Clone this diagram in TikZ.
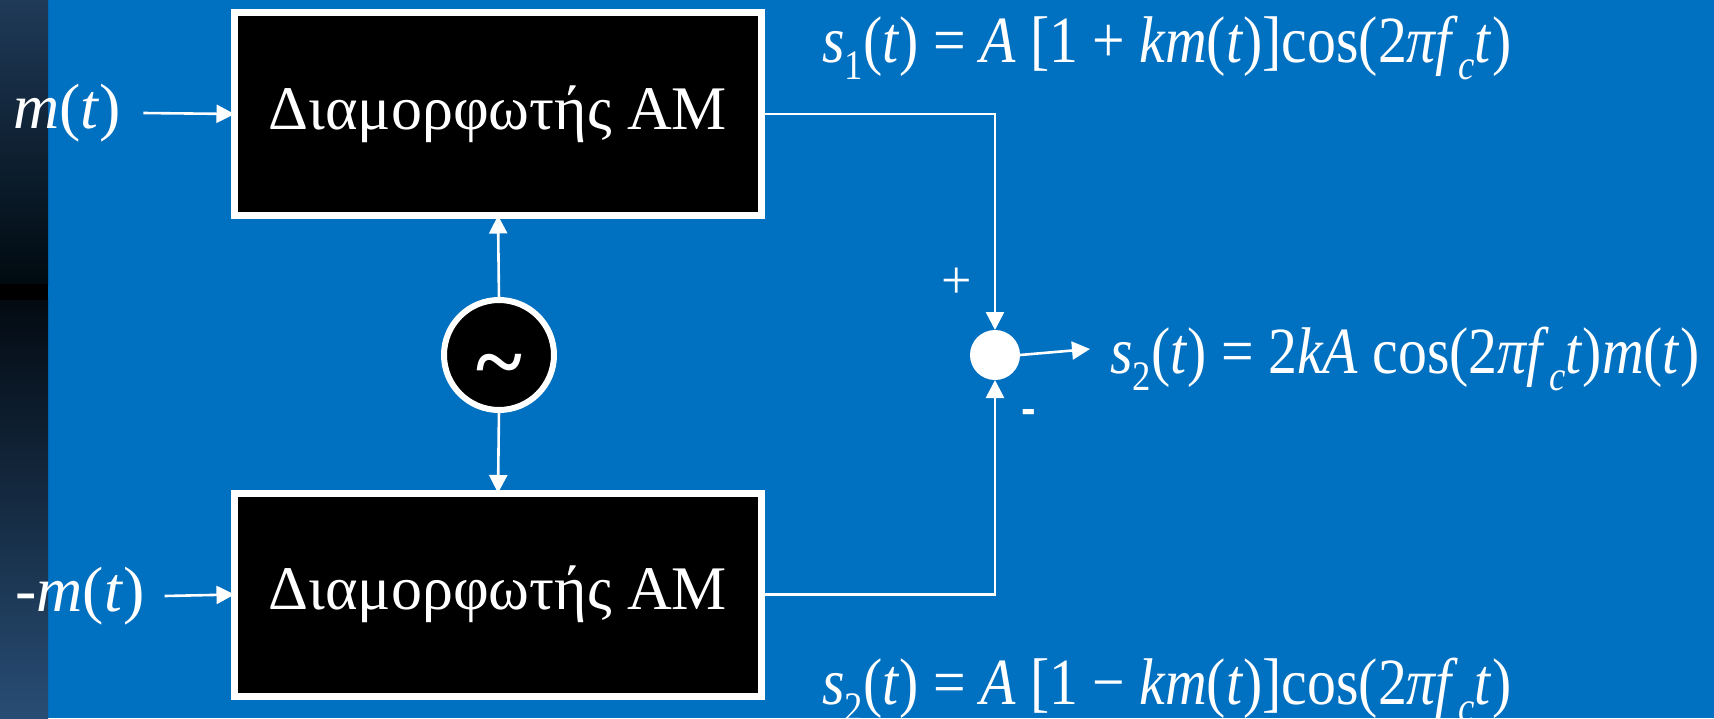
\documentclass[tikz,border=0pt]{standalone}
\usepackage{fontspec}
\setmainfont{Liberation Serif}
\newfontfamily\arialf{Liberation Sans}
\usetikzlibrary{arrows.meta,calc}
\definecolor{bgblue}{RGB}{0,112,192}
\definecolor{stripA}{RGB}{31,58,88}
\definecolor{stripB}{RGB}{0,10,16}
\definecolor{stripC}{RGB}{3,10,18}
\definecolor{stripD}{RGB}{40,77,116}
\newcommand\subx[1]{\raisebox{-0.26em}{\fontsize{42}{42}\selectfont #1}}
\newcommand\iv[1]{\textit{#1}}
\newcommand\eqtext[1]{\scalebox{0.875}[1]{#1}}
\tikzset{
  modbox/.style={draw=white, fill=black, line width=7pt, minimum width=527pt, minimum height=203pt, inner sep=0pt, outer sep=0pt, text=white, font=\fontsize{62}{70}\selectfont},
  osc/.style={circle, draw=white, fill=black, line width=6pt, minimum size=110pt, inner sep=0pt, outer sep=0pt, text=white},
  sumnode/.style={circle, fill=white, minimum size=50pt, inner sep=0pt, outer sep=0pt},
  arr/.style={draw=white, line width=2.6pt, -{Triangle[width=18pt,length=18pt]}},
  lbl/.style={text=white, inner sep=0pt, font=\fontsize{64}{68}\selectfont},
  eq/.style={text=white, inner sep=0pt, anchor=base west, font=\fontsize{66}{70}\selectfont}
}
\begin{document}
\begin{tikzpicture}[x=1pt,y=-1pt]
\fill[bgblue] (0,0) rectangle (1714,718);
\useasboundingbox (0,0) rectangle (1714,718);
\shade[top color=stripA, bottom color=stripB] (0,0) rectangle (48,284);
\fill[black] (0,284) rectangle (48,300);
\shade[top color=stripC, bottom color=stripD] (0,300) rectangle (48,718);

\node[modbox] (A) at (498,114) {Διαμορφωτής AM};
\node[modbox] (B) at (498,594.5) {Διαμορφωτής AM};
\node[osc] (O) at (499,355) {\fontsize{88}{88}\selectfont\bfseries\smash{\raisebox{-0.42em}{\textasciitilde}}};
\node[sumnode] (S) at (995,355) {};

\node[lbl, anchor=west] (m1) at (13,113) {\iv{m}(\iv{t})};
\node[lbl, anchor=west] (m2) at (15,596) {-\iv{m}(\iv{t})};

\draw[arr] ([xshift=22pt]m1.east) -- (A.west);
\draw[arr] ([xshift=20pt]m2.east) -- (B.west);
\draw[arr] (O.north) -- (A.south);
\draw[arr] (O.south) -- (B.north);
\draw[arr] (A.east) -| (S.north);
\draw[arr] (B.east) -| (S.south);
\coordinate (tip) at (1090,349);
\draw[arr] (S.east) -- (tip);

\node[text=white, font=\fontsize{54}{54}\selectfont] (plus) at (957,283) {+};
\node[text=white, font=\arialf\bfseries\fontsize{44}{44}\selectfont] (minus) at (1029,416) {-};

\node[eq] (s1) at (822,62) {\eqtext{\iv{s}\subx{1}(\iv{t}) = \iv{A} [1 + \iv{km}(\iv{t})]cos(2\iv{πf}\subx{\iv{c}}\iv{t})}};
\node[eq] (out) at (1110,373) {\eqtext{\iv{s}\subx{2}(\iv{t}) = 2\iv{kA} cos(2\iv{πf}\subx{\iv{c}}\iv{t})\iv{m}(\iv{t})}};
\node[eq] (s2) at (822,704) {\eqtext{\iv{s}\subx{2}(\iv{t}) = \iv{A} [1 − \iv{km}(\iv{t})]cos(2\iv{πf}\subx{\iv{c}}\iv{t})}};
\end{tikzpicture}
\end{document}
